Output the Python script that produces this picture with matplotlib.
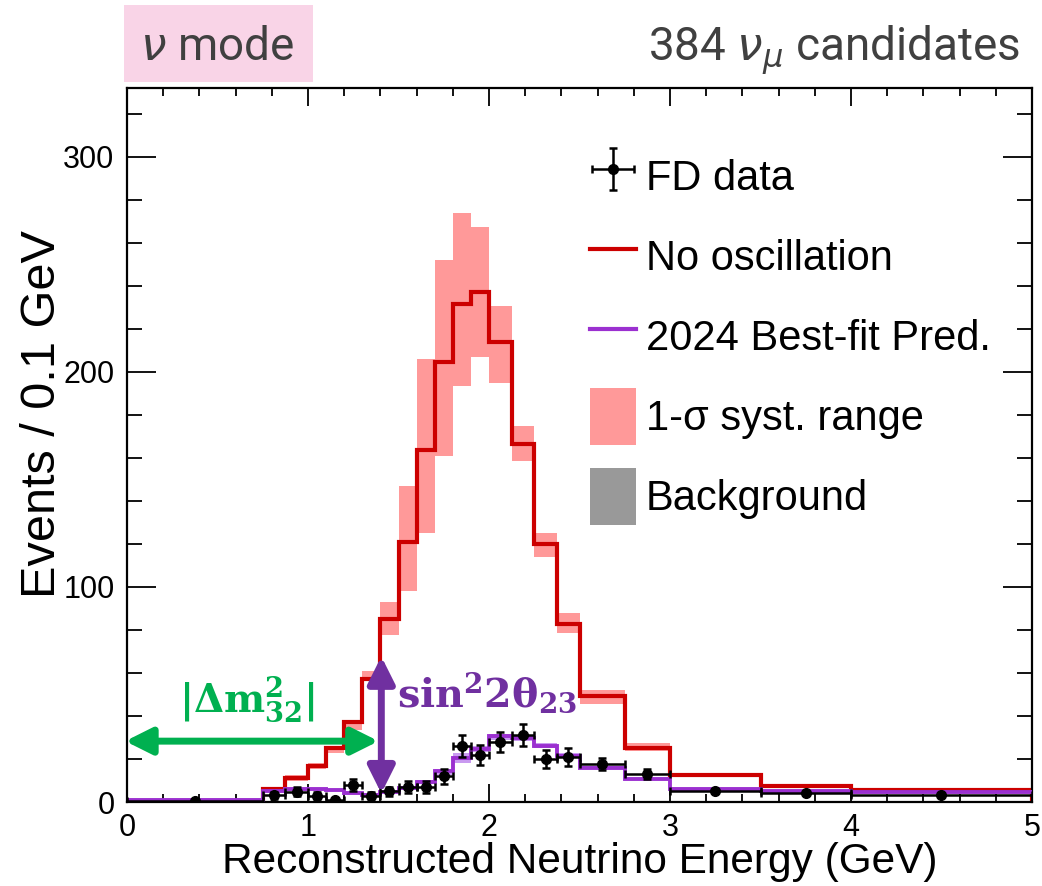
import numpy as np
import matplotlib.pyplot as plt
from matplotlib.patches import Patch, Rectangle
from matplotlib.lines import Line2D
from matplotlib.ticker import MultipleLocator

# bin edges in GeV (variable width), contents are Events / 0.1 GeV
edges = [0, 0.75, 0.875, 1.0, 1.1, 1.2, 1.3, 1.4, 1.5, 1.6, 1.7, 1.8, 1.9, 2.0,
         2.125, 2.25, 2.375, 2.5, 2.75, 3.0, 3.5, 4.0, 5.0]

# no oscillation prediction + 1-sigma syst range
no_osc = [0.3, 6.1, 11.2, 16.6, 25.1, 37.0, 57.3, 85.0, 120.8, 163.7, 204.7, 231.5,
          237.1, 213.7, 166.6, 119.9, 82.9, 49.1, 25.1, 12.7, 7.3, 5.4]
no_osc_lo = [0.2, 5.3, 10.0, 15.3, 22.8, 33.3, 56.1, 77.8, 97.9, 125.0, 160.9, 193.4,
             206.7, 195.0, 158.6, 114.1, 78.5, 45.7, 23.8, 12.0, 6.8, 5.1]
no_osc_hi = [0.4, 7.0, 12.5, 18.0, 25.9, 37.8, 60.7, 92.8, 147.0, 206.0, 252.2, 273.9,
             267.4, 230.7, 174.8, 125.0, 87.8, 52.2, 27.4, 13.6, 7.9, 5.8]

# 2024 best fit prediction
best_fit = [0.8, 5.0, 6.2, 6.1, 5.7, 4.2, 3.4, 4.6, 6.5, 9.2, 14.3, 20.5,
            24.7, 30.5, 29.8, 26.2, 21.5, 15.9, 10.6, 6.1, 5.0, 4.6]
best_fit_lo = [0.6, 4.6, 5.8, 5.7, 5.3, 3.8, 3.0, 4.1, 5.8, 8.2, 12.7, 18.2,
               23.1, 29.0, 28.4, 24.9, 20.4, 15.2, 10.1, 5.8, 4.7, 4.4]
best_fit_hi = [1.0, 5.4, 6.6, 6.5, 6.1, 4.6, 3.8, 5.1, 7.2, 10.2, 15.4, 22.8,
               25.9, 31.8, 31.2, 27.5, 22.6, 16.6, 11.1, 6.4, 5.3, 4.8]

# FD data
fd_data = [0.27, 3.2, 4.8, 3.0, 1.0, 8.0, 3.0, 5.0, 7.0, 7.0, 12.0, 26.0,
           22.0, 28.0, 31.2, 20.0, 20.8, 17.6, 13.2, 5.0, 4.2, 3.4]
fd_err = [0.19, 1.6, 2.0, 1.7, 1.0, 2.8, 1.7, 2.2, 2.6, 2.6, 3.5, 5.1,
          4.7, 4.7, 5.0, 4.0, 4.1, 2.65, 2.3, 1.0, 0.9, 0.58]

legend_labels = ['FD data', 'No oscillation', '2024 Best-fit Pred.',
                 '1-σ syst. range', 'Background']

red = '#cc0000'
pink = '#ff9999'
purple = '#9b30d0'
light_purple = '#c99af0'
green = '#00b050'
dark_purple = '#7030a0'
grey_txt = '#404040'

plt.rcParams['font.family'] = ['Liberation Sans', 'DejaVu Sans']

fig = plt.figure(figsize=(10.42, 8.86), dpi=100)
ax = fig.add_axes([0.1219, 0.0948, 0.8685, 0.8059])

e = np.array(edges)
centers = 0.5 * (e[1:] + e[:-1])
halfw = 0.5 * (e[1:] - e[:-1])

ax.stairs(no_osc_hi, edges, baseline=no_osc_lo, fill=True, color=pink, lw=0, zorder=1)
ax.stairs(no_osc, edges, baseline=0, color=red, lw=3, zorder=2)
ax.stairs(best_fit_hi, edges, baseline=best_fit_lo, fill=True, color=light_purple, lw=0, zorder=3)
ax.stairs(best_fit, edges, baseline=None, color=purple, lw=2.8, zorder=4)
h_data = ax.errorbar(centers, fd_data, xerr=halfw, yerr=fd_err, fmt='o', color='k',
                     ms=7, elinewidth=1.8, capsize=3, capthick=1.8, zorder=5)

ax.set_xlim(0, 5)
ax.set_ylim(0, 332)
ax.xaxis.set_major_locator(MultipleLocator(1))
ax.xaxis.set_minor_locator(MultipleLocator(0.2))
ax.yaxis.set_major_locator(MultipleLocator(100))
ax.yaxis.set_minor_locator(MultipleLocator(20))
ax.tick_params(which='both', direction='in', top=True, right=True, width=1.3, labelsize=22)
ax.tick_params(axis='x', which='major', length=13, pad=8)
ax.tick_params(axis='x', which='minor', length=6)
ax.tick_params(axis='y', which='major', length=21, pad=9)
ax.tick_params(axis='y', which='minor', length=11)
for s in ax.spines.values():
    s.set_linewidth(1.6)

ax.set_xlabel('Reconstructed Neutrino Energy (GeV)', fontsize=30.5)
ax.xaxis.set_label_coords(0.5, -0.056)
ax.set_ylabel('Events / 0.1 GeV', fontsize=35)
ax.yaxis.set_label_coords(-0.068, 0.543)

# legend
handles = [h_data,
           Line2D([], [], color=red, lw=3),
           Line2D([], [], color=purple, lw=3),
           Patch(facecolor=pink),
           Patch(facecolor='#999999')]
ax.legend(handles, legend_labels, loc='upper left', bbox_to_anchor=(0.5116, 0.916),
          frameon=False, fontsize=30, handlelength=1.1, handleheight=1.73,
          labelspacing=0.55, handletextpad=0.24, borderpad=0, borderaxespad=0)

# oscillation parameter arrows
ax.annotate('', xy=(1.39, 28.3), xytext=(-0.01, 28.3),
            arrowprops=dict(arrowstyle='<|-|>,head_length=0.8,head_width=0.4',
                            mutation_scale=20, color=green, lw=5, shrinkA=0, shrinkB=0),
            annotation_clip=False, zorder=6)
ax.annotate('', xy=(1.405, 67.7), xytext=(1.405, 4.0),
            arrowprops=dict(arrowstyle='<|-|>,head_length=0.8,head_width=0.4',
                            mutation_scale=20, color=dark_purple, lw=5, shrinkA=0, shrinkB=0),
            zorder=6)
ax.text(0.66, 41.5, r'$\mathbf{|\Delta m^2_{32}|}$', color=green, fontsize=28,
        ha='center', va='baseline', math_fontfamily='dejavuserif', zorder=6)
ax.text(1.49, 44.4, r'$\mathbf{sin^2 2\theta_{23}}$', color=dark_purple, fontsize=28.5,
        ha='left', va='baseline', math_fontfamily='dejavuserif', zorder=6)

# header
fig.add_artist(Rectangle((0.119, 0.9074), 0.1814, 0.0869, transform=fig.transFigure,
                         facecolor='#f9d4e7', edgecolor='none'))
fig.text(0.134, 0.932, r'$\nu$ mode', fontsize=33, color=grey_txt, family='Roboto',
         ha='left', va='baseline')
fig.text(0.979, 0.932, r'384 $\nu_\mu$ candidates', fontsize=33, color=grey_txt,
         family='Roboto', ha='right', va='baseline')

fig.savefig('out.png', dpi=100)
